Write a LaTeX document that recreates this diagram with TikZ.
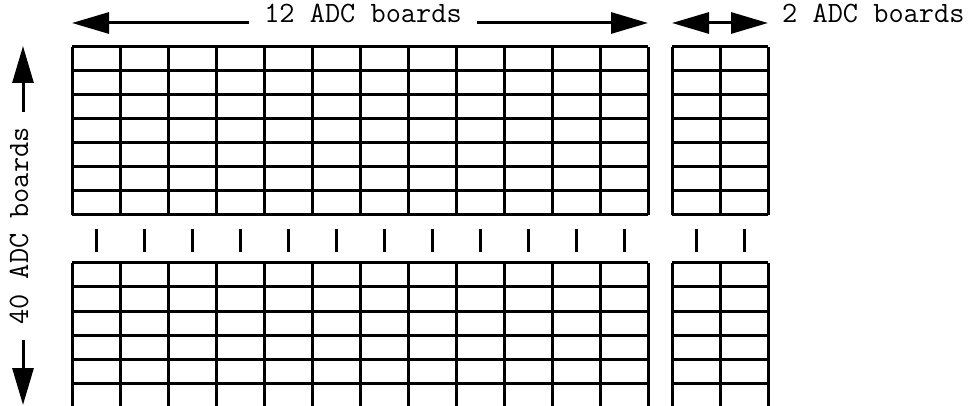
\documentclass[tikz,border=0pt]{standalone}
\usetikzlibrary{arrows.meta,calc}
\begin{document}
\begin{tikzpicture}[x=1pt,y=-1pt,
  gridline/.style={line width=3pt},
  tickline/.style={line width=3pt},
  arr/.style={line width=3pt,-{Triangle[length=37pt,width=21pt]}},
  lab/.style={font=\ttfamily\fontsize{29.5}{33}\selectfont,inner xsep=15.3pt,inner ysep=0pt},
  vlab/.style={lab,rotate=90,text height=10pt,text depth=0pt}]
\useasboundingbox (0,0) rectangle (975,406);
% top grids
\foreach \y in {47,71,...,215} {
  \draw[gridline] (72,\y) -- (648,\y);
  \draw[gridline] (672,\y) -- (768,\y);
}
\foreach \x in {72,120,...,648} \draw[gridline] (\x,47) -- (\x,215);
\foreach \x in {672,720,768} \draw[gridline] (\x,47) -- (\x,215);
% ticks
\foreach \x in {96,144,...,624} \draw[tickline] (\x,229) -- (\x,252);
\foreach \x in {696,744} \draw[tickline] (\x,229) -- (\x,252);
% bottom grids
\foreach \y in {263,287,...,383} {
  \draw[gridline] (72,\y) -- (648,\y);
  \draw[gridline] (672,\y) -- (768,\y);
}
\foreach \x in {72,120,...,648} \draw[gridline] (\x,263) -- (\x,406);
\foreach \x in {672,720,768} \draw[gridline] (\x,263) -- (\x,406);
% labels
\node[lab,anchor=base] (l12) at (363,23) {12 ADC boards};
\coordinate (t12L) at (72,23);
\coordinate (t12R) at (648,23);
\draw[arr] (l12.base west) -- (t12L);
\draw[arr] (l12.base east) -- (t12R);
\node[lab,inner xsep=0pt,anchor=base west] (l2) at (782,23) {2 ADC boards};
\coordinate (b2m) at (720,23);
\coordinate (b2L) at (672,23);
\coordinate (b2R) at (768,23);
\draw[arr] (b2m) -- (b2L);
\draw[arr] (b2m) -- (b2R);
\node[vlab] (l40) at (23,226) {40 ADC boards};
\coordinate (v40T) at (23,46);
\coordinate (v40B) at (23,405);
\draw[arr] (l40.east) -- (v40T);
\draw[arr] (l40.west) -- (v40B);
\end{tikzpicture}
\end{document}
